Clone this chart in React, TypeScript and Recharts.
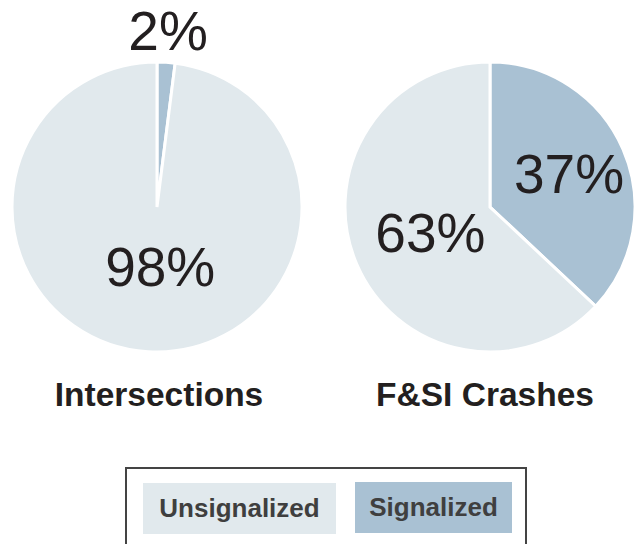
import React from "react"
import { Cell, Pie, PieChart } from "recharts"

// shares of signalized vs unsignalized
const categories = ["Signalized", "Unsignalized"]
const intersectionValues = [2, 98]
const crashValues = [37, 63]
const chartTitles = ["Intersections", "F&SI Crashes"]

const intersectionData = categories.map((name, i) => ({ name, value: intersectionValues[i] }))
const crashData = categories.map((name, i) => ({ name, value: crashValues[i] }))

const COLORS: Record<string, string> = {
  Signalized: "#A9C1D3",
  Unsignalized: "#E1E9ED",
}

const FONT = '"Liberation Sans", Arial, Helvetica, sans-serif'
const RADIAN = Math.PI / 180

// label radius (and small x nudge) per slice, so the small slice can sit outside
const makeLabel = (radii: number[], nudge: number[]) => (props: any) => {
  const { cx, cy, midAngle, index, value } = props
  const r = radii[index]
  const x = cx + r * Math.cos(-midAngle * RADIAN) + nudge[index]
  const y = cy + r * Math.sin(-midAngle * RADIAN)
  return (
    <text
      x={x}
      y={y}
      textAnchor="middle"
      dominantBaseline="central"
      fill="#231F20"
      style={{ fontFamily: FONT, fontSize: 55 }}
    >
      {`${value}%`}
    </text>
  )
}

const titleStyle: React.CSSProperties = {
  position: "absolute",
  top: 375,
  width: 300,
  textAlign: "center",
  fontFamily: FONT,
  fontWeight: 700,
  fontSize: 33.5,
  color: "#231F20",
  lineHeight: "40px",
}

const swatchStyle: React.CSSProperties = {
  position: "absolute",
  height: 51,
  lineHeight: "51px",
  textAlign: "center",
  fontFamily: FONT,
  fontWeight: 700,
  fontSize: 26,
  color: "#3F3F3F",
}

export default function App() {
  return (
    <div
      style={{
        position: "absolute",
        left: 0,
        top: 0,
        width: 637,
        height: 544,
        overflow: "hidden",
        background: "#fff",
      }}
    >
      <PieChart width={637} height={544} margin={{ top: 0, right: 0, bottom: 0, left: 0 }}>
        <Pie
          data={intersectionData}
          dataKey="value"
          nameKey="name"
          cx={157}
          cy={207}
          outerRadius={145}
          startAngle={90}
          endAngle={-270}
          stroke="#fff"
          strokeWidth={3}
          label={makeLabel([176, 60], [0, 7])}
          labelLine={false}
          isAnimationActive={false}
        >
          {intersectionData.map((d) => (
            <Cell key={d.name} fill={COLORS[d.name]} />
          ))}
        </Pie>
        <Pie
          data={crashData}
          dataKey="value"
          nameKey="name"
          cx={490}
          cy={207}
          outerRadius={145}
          startAngle={90}
          endAngle={-270}
          stroke="#fff"
          strokeWidth={3}
          label={makeLabel([84, 65], [2, 0])}
          labelLine={false}
          isAnimationActive={false}
        >
          {crashData.map((d) => (
            <Cell key={d.name} fill={COLORS[d.name]} />
          ))}
        </Pie>
      </PieChart>

      <div style={{ ...titleStyle, left: 9 }}>{chartTitles[0]}</div>
      <div style={{ ...titleStyle, left: 335 }}>{chartTitles[1]}</div>

      {/* legend box */}
      <div
        style={{
          position: "absolute",
          left: 125,
          top: 467,
          width: 398,
          height: 100,
          border: "2px solid #444",
        }}
      />
      <div style={{ ...swatchStyle, left: 143, top: 483, width: 193, background: COLORS.Unsignalized }}>
        Unsignalized
      </div>
      <div style={{ ...swatchStyle, left: 355, top: 482, width: 157, background: COLORS.Signalized }}>
        Signalized
      </div>
    </div>
  )
}
